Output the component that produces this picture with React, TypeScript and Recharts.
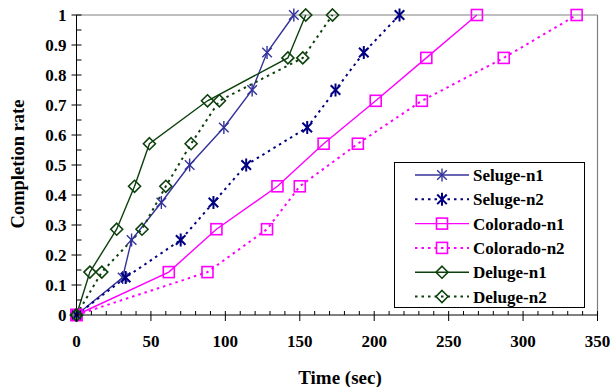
import React from "react";
import { LineChart, Line, XAxis, YAxis, ReferenceLine, Legend } from "recharts";

// completion steps (fraction of the image received)
const selugeRate = [0, 0.125, 0.25, 0.375, 0.5, 0.625, 0.75, 0.875, 1];
const coloradoRate = [0, 0.143, 0.286, 0.429, 0.571, 0.714, 0.857, 1];
const delugeRate = [0, 0.143, 0.286, 0.429, 0.571, 0.714, 0.857, 1];

// time (sec) at which each step was reached
const seluge1Time = [0, 31, 37, 57, 76, 99, 118, 128, 146];
const seluge2Time = [0, 33, 70, 92, 114, 155, 174, 193, 217];
const colorado1Time = [0, 62, 94, 135, 166, 201, 235, 269];
const colorado2Time = [0, 88, 128, 150, 189, 232, 287, 336];
const deluge1Time = [0, 9, 27, 39, 49, 88, 142, 154];
const deluge2Time = [0, 17, 44, 60, 77, 96, 152, 172];

const xTicks = [
  0, 10, 20, 30, 40, 50, 60, 70, 80, 90, 100, 110, 120, 130, 140, 150, 160, 170,
  180, 190, 200, 210, 220, 230, 240, 250, 260, 270, 280, 290, 300, 310, 320, 330,
  340, 350,
];
const yTicks = [
  0, 0.05, 0.1, 0.15, 0.2, 0.25, 0.3, 0.35, 0.4, 0.45, 0.5, 0.55, 0.6, 0.65, 0.7,
  0.75, 0.8, 0.85, 0.9, 0.95, 1,
];

type Marker = "star" | "square" | "diamond";

interface Series {
  name: string;
  time: number[];
  rate: number[];
  color: string;
  dotted: boolean;
  marker: Marker;
}

const series: Series[] = [
  { name: "Seluge-n1", time: seluge1Time, rate: selugeRate, color: "#333399", dotted: false, marker: "star" },
  { name: "Seluge-n2", time: seluge2Time, rate: selugeRate, color: "#000080", dotted: true, marker: "star" },
  { name: "Colorado-n1", time: colorado1Time, rate: coloradoRate, color: "#ff00ff", dotted: false, marker: "square" },
  { name: "Colorado-n2", time: colorado2Time, rate: coloradoRate, color: "#ff00ff", dotted: true, marker: "square" },
  { name: "Deluge-n1", time: deluge1Time, rate: delugeRate, color: "#0d400d", dotted: false, marker: "diamond" },
  { name: "Deluge-n2", time: deluge2Time, rate: delugeRate, color: "#0d400d", dotted: true, marker: "diamond" },
];

const FONT = "'Liberation Serif', 'Times New Roman', serif";
const DASH = "2.5 4";

function MarkerShape({ cx, cy, marker, color, width }: { cx: number; cy: number; marker: Marker; color: string; width: number }) {
  if (cx == null || cy == null) return null;
  if (marker === "star") {
    const r = 6.5;
    const d = 4.8;
    return (
      <g stroke={color} strokeWidth={width} fill="none">
        <line x1={cx} y1={cy - r} x2={cx} y2={cy + r} />
        <line x1={cx - d} y1={cy - d} x2={cx + d} y2={cy + d} />
        <line x1={cx - d} y1={cy + d} x2={cx + d} y2={cy - d} />
      </g>
    );
  }
  if (marker === "square") {
    return <rect x={cx - 5.5} y={cy - 5.5} width={11} height={11} stroke={color} strokeWidth={1.6} fill="none" />;
  }
  return (
    <polygon
      points={`${cx},${cy - 6} ${cx + 6},${cy} ${cx},${cy + 6} ${cx - 6},${cy}`}
      stroke={color}
      strokeWidth={1.6}
      fill="none"
    />
  );
}

function XTick({ x, y, payload }: any) {
  const v = payload.value as number;
  const major = v % 50 === 0;
  return (
    <g>
      <line x1={x} x2={x} y1={y - 4} y2={major ? y + 6 : y} stroke="#000" strokeWidth={1} />
      {major && (
        <text x={x} y={y + 32} textAnchor="middle" fontFamily={FONT} fontWeight="bold" fontSize={17} fill="#000">
          {v}
        </text>
      )}
    </g>
  );
}

function YTick({ x, y, payload }: any) {
  const v = payload.value as number;
  const major = Math.round(v * 100) % 10 === 0;
  return (
    <g>
      <line x1={major ? x - 5 : x} x2={x + 5} y1={y} y2={y} stroke="#000" strokeWidth={1} />
      {major && (
        <text x={x - 10} y={y + 6} textAnchor="end" fontFamily={FONT} fontWeight="bold" fontSize={17} fill="#000">
          {String(v)}
        </text>
      )}
    </g>
  );
}

function LegendBox() {
  return (
    <svg width={192} height={147}>
      <rect x={0.5} y={0.5} width={190} height={145} fill="#fff" stroke="#000" strokeWidth={1} />
      {series.map((s, i) => {
        const cy = 13 + i * 24.3;
        return (
          <g key={s.name}>
            <line
              x1={21}
              x2={75}
              y1={cy}
              y2={cy}
              stroke={s.color}
              strokeWidth={s.dotted ? 2 : 1.4}
              strokeDasharray={s.dotted ? DASH : undefined}
            />
            <MarkerShape cx={48} cy={cy} marker={s.marker} color={s.color} width={s.dotted ? 2 : 1.4} />
            <text x={79} y={cy + 6} fontFamily={FONT} fontWeight="bold" fontSize={17} fill="#000">
              {s.name}
            </text>
          </g>
        );
      })}
    </svg>
  );
}

export default function App() {
  return (
    <div style={{ position: "absolute", left: 0, top: 0, width: 612, height: 387, background: "#fff" }}>
      <LineChart width={612} height={387} margin={{ top: 15, right: 14.5, left: 0, bottom: 0 }}>
        <XAxis
          type="number"
          dataKey="t"
          domain={[0, 350]}
          ticks={xTicks}
          interval={0}
          height={72}
          tickSize={0}
          tickMargin={0}
          tickLine={false}
          axisLine={{ stroke: "#000", strokeWidth: 1 }}
          tick={<XTick />}
          allowDuplicatedCategory={false}
        />
        <YAxis
          type="number"
          dataKey="r"
          domain={[0, 1]}
          ticks={yTicks}
          interval={0}
          width={76.5}
          tickSize={0}
          tickMargin={0}
          tickLine={false}
          axisLine={{ stroke: "#000", strokeWidth: 1 }}
          tick={<YTick />}
        />
        <ReferenceLine y={1} stroke="#808080" strokeWidth={1.2} />
        <ReferenceLine x={350} stroke="#808080" strokeWidth={1.2} />
        {series.map((s) => (
          <Line
            key={s.name}
            name={s.name}
            data={s.time.map((t, i) => ({ t, r: s.rate[i] }))}
            dataKey="r"
            type="linear"
            stroke={s.color}
            strokeWidth={s.dotted ? 2 : 1.4}
            strokeDasharray={s.dotted ? DASH : undefined}
            isAnimationActive={false}
            dot={(p: any) => (
              <MarkerShape
                key={`${s.name}-${p.index}`}
                cx={p.cx}
                cy={p.cy}
                marker={s.marker}
                color={s.color}
                width={s.dotted ? 2 : 1.4}
              />
            )}
            activeDot={false}
          />
        ))}
        <Legend
          layout="horizontal"
          verticalAlign="middle"
          align="center"
          wrapperStyle={{ left: 394, top: 162, width: 192, height: 147 }}
          content={() => <LegendBox />}
        />
        <text
          transform="translate(23.5,164) rotate(-90)"
          textAnchor="middle"
          fontFamily={FONT}
          fontWeight="bold"
          fontSize={18.5}
          fill="#000"
        >
          Completion rate
        </text>
        <text x={340} y={384} textAnchor="middle" fontFamily={FONT} fontWeight="bold" fontSize={19} fill="#000">
          Time (sec)
        </text>
      </LineChart>
    </div>
  );
}
